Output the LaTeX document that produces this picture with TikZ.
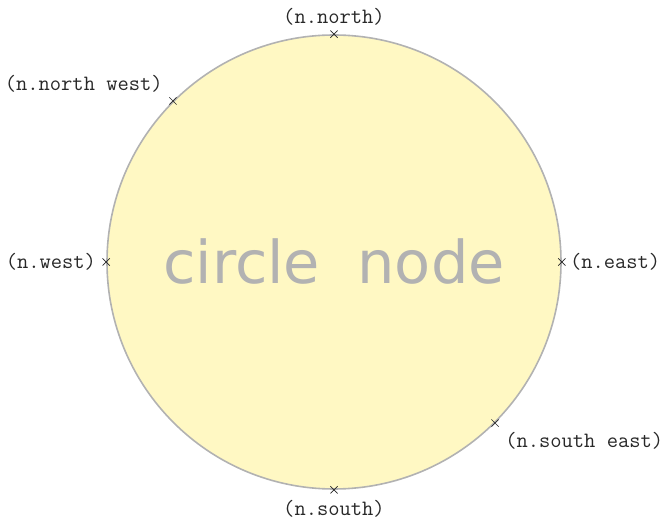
\documentclass[tikz,border=0pt]{standalone}
\usepackage{fontspec}
\newfontfamily\bigsans{DejaVu Sans}
\usetikzlibrary{shapes.misc}
\definecolor{fillyel}{RGB}{255,248,195}
\definecolor{rimgray}{RGB}{178,178,178}
\definecolor{txtgray}{RGB}{178,178,178}
\definecolor{lblcol}{RGB}{40,40,40}
\tikzset{
  bignode/.style={circle, draw=rimgray, line width=1.6pt, fill=fillyel,
    minimum size=454pt, inner sep=0pt, text=txtgray,
    font=\bigsans\fontsize{59}{70}\selectfont},
  anchmark/.style={cross out, draw=lblcol, line width=0.7pt, minimum size=6.5pt, inner sep=0pt},
  anchlabel/.style={text=lblcol, inner sep=0pt, font=\ttfamily\fontsize{21.9}{26}\selectfont}
}
\begin{document}
\begin{tikzpicture}
\useasboundingbox (0pt,0pt) rectangle (662pt,520pt);
\node[bignode] (n) at (334pt,258pt) {circle\ \ node};
\node[anchmark] (mN) at (n.north) {};
\node[anchmark] (mNW) at (n.north west) {};
\node[anchmark] (mW) at (n.west) {};
\node[anchmark] (mE) at (n.east) {};
\node[anchmark] (mSE) at (n.south east) {};
\node[anchmark] (mS) at (n.south) {};
\node[anchlabel, anchor=south] (lN) at ([yshift=9pt]n.north) {(n.north)};
\node[anchlabel, anchor=south east] (lNW) at ([xshift=-10pt,yshift=8pt]n.north west) {(n.north west)};
\node[anchlabel, anchor=east] (lW) at ([xshift=-10pt]n.west) {(n.west)};
\node[anchlabel, anchor=west] (lE) at ([xshift=8pt]n.east) {(n.east)};
\node[anchlabel, anchor=north west] (lSE) at ([xshift=10pt,yshift=-9pt]n.south east) {(n.south east)};
\node[anchlabel, anchor=north] (lS) at ([yshift=-10pt]n.south) {(n.south)};
\end{tikzpicture}
\end{document}
